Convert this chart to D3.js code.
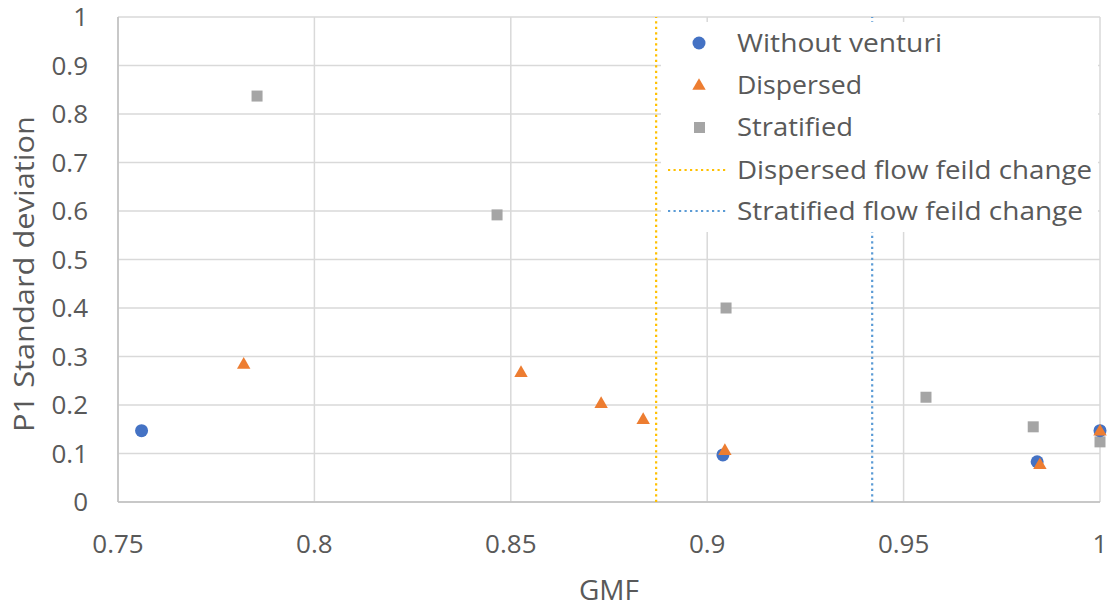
<!DOCTYPE html>
<html>
<head>
<meta charset="utf-8">
<script src="https://d3js.org/d3.v7.min.js"></script>
<style>
  body { margin: 0; background: #fff; }
  text { font-family: "Open Sans", "Segoe UI", sans-serif; fill: #595959; }
</style>
</head>
<body>
<script>
// data
var withoutX = [0.756, 0.904, 0.984, 1.0]
var withoutY = [0.147, 0.097, 0.083, 0.147]
var dispersedX = [0.782, 0.8526, 0.873, 0.8837, 0.9045, 0.9847, 1.0]
var dispersedY = [0.285, 0.268, 0.204, 0.171, 0.107, 0.078, 0.147]
var stratifiedX = [0.7854, 0.8465, 0.9048, 0.9557, 0.983, 1.0]
var stratifiedY = [0.837, 0.592, 0.40, 0.216, 0.155, 0.124]
var dispersedChange = 0.887
var stratifiedChange = 0.942
var xTicks = [0.75, 0.8, 0.85, 0.9, 0.95, 1]
var yTicks = [0, 0.1, 0.2, 0.3, 0.4, 0.5, 0.6, 0.7, 0.8, 0.9, 1]
var legendNames = ["Without venturi", "Dispersed", "Stratified",
                   "Dispersed flow feild change", "Stratified flow feild change"]

var W = 1111, H = 604
var margin = {top: 17, left: 118, right: 11, bottom: 102}

var svg = d3.select("body").append("svg")
  .attr("width", W).attr("height", H)

var x = d3.scaleLinear().domain([0.75, 1]).range([margin.left, W - margin.right])
var y = d3.scaleLinear().domain([0, 1]).range([H - margin.bottom, margin.top])

var grid = svg.append("g")
grid.selectAll(".gx").data(xTicks).enter().append("line")
  .attr("x1", d => x(d)).attr("x2", d => x(d))
  .attr("y1", y(0)).attr("y2", y(1))
  .attr("stroke", "#d9d9d9").attr("stroke-width", 1.5)
grid.selectAll(".gy").data(yTicks).enter().append("line")
  .attr("x1", x(0.75)).attr("x2", x(1))
  .attr("y1", d => y(d)).attr("y2", d => y(d))
  .attr("stroke", "#d9d9d9").attr("stroke-width", 1.5)
// left and bottom axis lines
svg.append("line").attr("x1", x(0.75)).attr("x2", x(0.75)).attr("y1", y(0)).attr("y2", y(1))
  .attr("stroke", "#bfbfbf").attr("stroke-width", 1.5)
svg.append("line").attr("x1", x(0.75)).attr("x2", x(1)).attr("y1", y(0)).attr("y2", y(0))
  .attr("stroke", "#bfbfbf").attr("stroke-width", 1.5)

// tick labels
svg.selectAll(".xt").data(xTicks).enter().append("text")
  .attr("x", d => x(d)).attr("y", y(0) + 51)
  .attr("text-anchor", "middle").attr("font-size", 26)
  .text(d => d)
svg.selectAll(".yt").data(yTicks).enter().append("text")
  .attr("x", x(0.75) - 30).attr("y", d => y(d) + 9)
  .attr("text-anchor", "end").attr("font-size", 26)
  .text(d => d)

// axis titles
svg.append("text").attr("x", (x(0.75) + x(1)) / 2).attr("y", 600)
  .attr("text-anchor", "middle").attr("font-size", 28).text("GMF")
svg.append("text").attr("transform", "translate(34,274) rotate(-90)")
  .attr("text-anchor", "middle").attr("font-size", 28)
  .attr("textLength", 316).attr("lengthAdjust", "spacingAndGlyphs")
  .text("P1 Standard deviation")

// vertical flow change lines
svg.append("line").attr("x1", x(stratifiedChange)).attr("x2", x(stratifiedChange))
  .attr("y1", y(0)).attr("y2", y(1))
  .attr("stroke", "#5b9bd5").attr("stroke-width", 2.2).attr("stroke-dasharray", "2.2,3.3")

// legend box (white, covers grid)
var lg = svg.append("g")
lg.append("rect").attr("x", 661).attr("y", 22).attr("width", 437).attr("height", 210).attr("fill", "#fff")

svg.append("line").attr("x1", x(dispersedChange)).attr("x2", x(dispersedChange))
  .attr("y1", y(0)).attr("y2", y(1))
  .attr("stroke", "#ffc000").attr("stroke-width", 2.2).attr("stroke-dasharray", "2.2,3.3")

var tri = d3.symbol().type(d3.symbolTriangle).size(78)

// points
var pts = svg.append("g")
pts.selectAll(".s").data(d3.zip(stratifiedX, stratifiedY)).enter().append("rect")
  .attr("x", d => x(d[0]) - 5.5).attr("y", d => y(d[1]) - 5.5)
  .attr("width", 11).attr("height", 11).attr("fill", "#a5a5a5")
pts.selectAll(".w").data(d3.zip(withoutX, withoutY)).enter().append("circle")
  .attr("cx", d => x(d[0])).attr("cy", d => y(d[1])).attr("r", 6.5)
  .attr("fill", "#4472c4")
pts.selectAll(".d").data(d3.zip(dispersedX, dispersedY)).enter().append("path")
  .attr("d", tri).attr("transform", d => "translate(" + x(d[0]) + "," + (y(d[1]) + 1) + ")")
  .attr("fill", "#ed7d31")

// legend entries
var ly = [43, 85, 127, 170, 211]
var lw = [205, 125, 116, 355, 346]
lg.selectAll(".lt").data(legendNames).enter().append("text")
  .attr("x", 737).attr("y", (d, i) => ly[i] + 9)
  .attr("font-size", 26)
  .attr("textLength", (d, i) => lw[i]).attr("lengthAdjust", "spacingAndGlyphs")
  .text(d => d)
lg.append("circle").attr("cx", 699).attr("cy", ly[0]).attr("r", 6.5).attr("fill", "#4472c4")
lg.append("path").attr("d", tri).attr("transform", "translate(699," + (ly[1] + 1) + ")").attr("fill", "#ed7d31")
lg.append("rect").attr("x", 694).attr("y", ly[2] - 5).attr("width", 11).attr("height", 11).attr("fill", "#a5a5a5")
lg.append("line").attr("x1", 668).attr("x2", 726).attr("y1", ly[3]).attr("y2", ly[3])
  .attr("stroke", "#ffc000").attr("stroke-width", 2.2).attr("stroke-dasharray", "2.2,3.3")
lg.append("line").attr("x1", 668).attr("x2", 726).attr("y1", ly[4]).attr("y2", ly[4])
  .attr("stroke", "#5b9bd5").attr("stroke-width", 2.2).attr("stroke-dasharray", "2.2,3.3")
</script>
</body>
</html>
